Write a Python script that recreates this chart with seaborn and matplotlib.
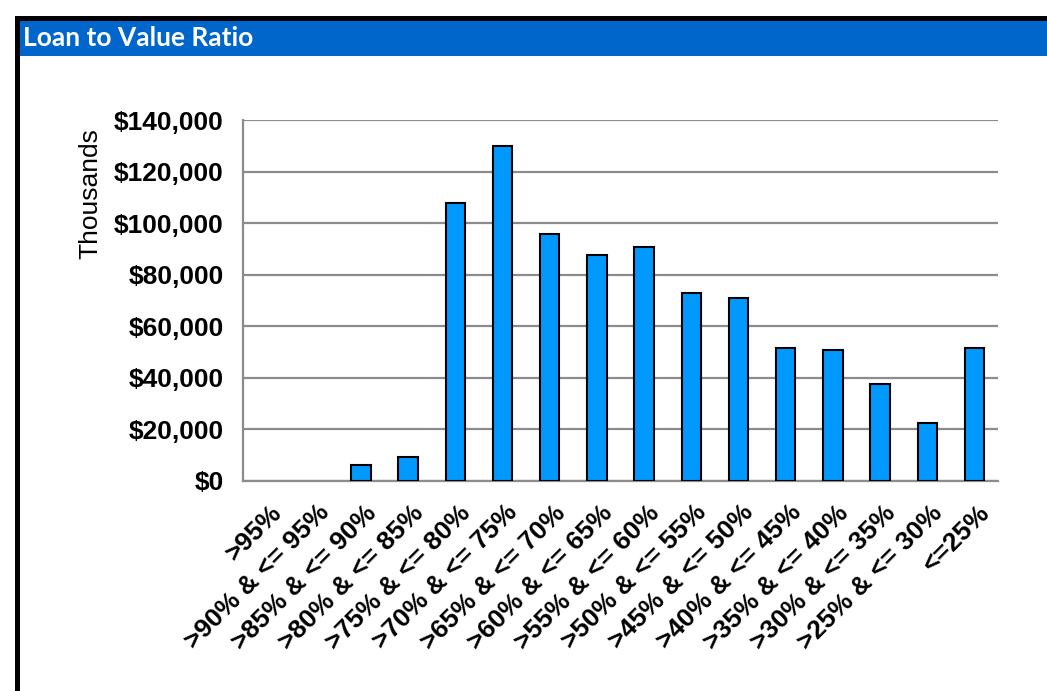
import matplotlib
matplotlib.use("Agg")
import matplotlib.pyplot as plt
import matplotlib.ticker as mticker
from matplotlib.patches import Rectangle
from matplotlib.transforms import ScaledTranslation
import numpy as np
import pandas as pd
import seaborn as sns

# Loan-to-value buckets and balances (in thousands of dollars)
categories = [">95%", ">90% & <= 95%", ">85% & <= 90%", ">80% & <= 85%",
              ">75% & <= 80%", ">70% & <= 75%", ">65% & <= 70%", ">60% & <= 65%",
              ">55% & <= 60%", ">50% & <= 55%", ">45% & <= 50%", ">40% & <= 45%",
              ">35% & <= 40%", ">30% & <= 35%", ">25% & <= 30%", "<=25%"]
balances = [0, 0, 6300, 9400, 107900, 129800, 95600, 87500,
            90600, 72900, 70800, 51400, 50800, 37600, 22600, 51400]
y_ticks = [0, 20000, 40000, 60000, 80000, 100000, 120000, 140000]

df = pd.DataFrame({"bucket": categories, "balance": balances})

sns.set_style("white")
plt.rcParams["font.family"] = ["Liberation Sans", "DejaVu Sans"]
plt.rcParams["text.color"] = "black"
plt.rcParams["axes.labelcolor"] = "black"
plt.rcParams["xtick.color"] = "black"
plt.rcParams["ytick.color"] = "black"

W, H = 1047, 691
fig = plt.figure(figsize=(W / 100, H / 100), dpi=100)

# frame and title banner
fig.patches.append(Rectangle((15 / W, 0), 5 / W, 1 - 16 / H, transform=fig.transFigure,
                             facecolor="black", edgecolor="none", zorder=0))
fig.patches.append(Rectangle((15 / W, 1 - 21 / H), 1, 5 / H, transform=fig.transFigure,
                             facecolor="black", edgecolor="none", zorder=0))
fig.patches.append(Rectangle((20 / W, 1 - 56 / H), 1, 35 / H, transform=fig.transFigure,
                             facecolor="#0066CC", edgecolor="none", zorder=0))
fig.text(23 / W, 1 - 37.5 / H, "Loan to Value Ratio", color="white",
         fontsize=19, fontweight="bold", family=["Lato", "DejaVu Sans"],
         va="center", ha="left")

ax = fig.add_axes([243 / W, (H - 481) / H, (998 - 243) / W, (481 - 120) / H])
sns.barplot(data=df, x="bucket", y="balance", ax=ax, color="#0099FF",
            edgecolor="black", linewidth=1.5, width=0.41, saturation=1, zorder=3)
# empty buckets get no outline
for bar in ax.patches:
    if bar.get_height() == 0:
        bar.set_linewidth(0)

ax.set_xlim(-0.5, len(categories) - 0.5)
ax.set_ylim(0, 140000)
ax.set_yticks(y_ticks)
ax.yaxis.set_major_formatter(mticker.FuncFormatter(lambda v, p: f"${v:,.0f}"))
ax.grid(axis="y", color="#8C8C8C", linewidth=1.6, zorder=0)
ax.set_axisbelow(True)

for side in ["top", "right"]:
    ax.spines[side].set_visible(False)
for side in ["left", "bottom"]:
    ax.spines[side].set_color("#8C8C8C")
    ax.spines[side].set_linewidth(1.6)

ax.set_xlabel("")
ax.set_ylabel("Thousands", fontsize=19, color="black")
ax.yaxis.set_label_coords((102 - 243) / 755, (481 - 194) / 361)

ax.tick_params(axis="y", length=6, width=1.6, color="#8C8C8C", labelsize=19,
               pad=8, labelcolor="black")
for lbl in ax.get_yticklabels():
    lbl.set_fontweight("bold")

ax.set_xticks(np.arange(len(categories)))
ax.set_xticklabels(categories, rotation=45, ha="right", rotation_mode="anchor",
                   fontsize=19, fontweight="bold", color="black")
ax.tick_params(axis="x", which="major", length=0, pad=14)
ax.set_xticks(np.arange(-0.5, len(categories)), minor=True)
ax.tick_params(axis="x", which="minor", length=6, width=1.6, color="#8C8C8C")
shift = ScaledTranslation(0.03, 0, fig.dpi_scale_trans)
for lbl in ax.get_xticklabels():
    lbl.set_transform(lbl.get_transform() + shift)

fig.savefig("out.png", dpi=100, facecolor="white")
